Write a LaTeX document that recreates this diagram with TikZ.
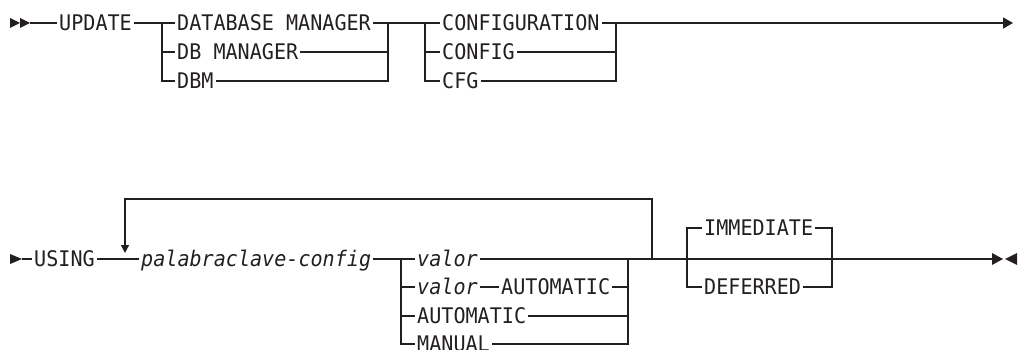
\documentclass[tikz,border=0pt]{standalone}
\usepackage{fontspec}
\usetikzlibrary{arrows.meta}
\newfontfamily\dmono[FakeStretch=0.935]{DejaVu Sans Mono}
\definecolor{ink}{HTML}{231F20}
\begin{document}
\begin{tikzpicture}[x=1pt,y=-1pt,line width=1.4pt,draw=ink,
  kw/.style={font=\dmono\fontsize{21.5}{22}\selectfont,inner xsep=1.5pt,inner ysep=0pt,
    text height=15.7pt,text depth=0pt,anchor=west,text=ink},
  var/.style={kw,font=\dmono\itshape\fontsize{21.5}{22}\selectfont},
  endtip/.style={-{Triangle[length=10pt,width=11pt]}},
  looptip/.style={-{Triangle[length=8pt,width=8pt]}}]
\useasboundingbox (0,0) rectangle (1018,350);
% ---------- row 1 ----------
\fill[ink] (10,18) -- (20,23) -- (10,28) -- cycle;
\fill[ink] (20,18) -- (30,23) -- (20,28) -- cycle;
\coordinate (s1e) at (30,23);
\node[kw] (upd) at (57,23) {UPDATE};
\node[kw] (dbm1) at (175,23) {DATABASE MANAGER};
\node[kw] (dbm2) at (175,52) {DB MANAGER};
\node[kw] (dbm3) at (175,81) {DBM};
\node[kw] (cf1) at (440,23) {CONFIGURATION};
\node[kw] (cf2) at (440,52) {CONFIG};
\node[kw] (cf3) at (440,81) {CFG};
\coordinate (b1l) at (162,23);
\coordinate (b1r) at (388,23);
\coordinate (b2l) at (425,23);
\coordinate (b2r) at (616,23);
\coordinate (e1) at (1013,23);
\draw (s1e) -- (upd.west);
\draw (upd.east) -- (dbm1.west);
\draw (b1l) |- (dbm2.west);
\draw (b1l) |- (dbm3.west);
\draw (dbm1.east) -- (b1r) -- (b2l) -- (cf1.west);
\draw (dbm2.east) -| (b1r);
\draw (dbm3.east) -| (b1r);
\draw (b2l) |- (cf2.west);
\draw (b2l) |- (cf3.west);
\draw (cf2.east) -| (b2r);
\draw (cf3.east) -| (b2r);
\draw[endtip] (cf1.east) -- (b2r) -- (e1);
% ---------- row 2 ----------
\fill[ink] (10,254) -- (22,259) -- (10,264) -- cycle;
\coordinate (s2e) at (22,259);
\node[kw] (us) at (32,259) {USING};
\node[var] (pc) at (139,259) {palabraclave-config};
\node[var] (v1) at (415,259) {valor};
\node[var] (v2) at (415,287) {valor};
\node[kw] (a2) at (499,287) {AUTOMATIC};
\node[kw] (a3) at (415,316) {AUTOMATIC};
\node[kw] (mn) at (415,344) {MANUAL};
\node[kw] (im) at (702,228) {IMMEDIATE};
\node[kw] (df) at (702,287) {DEFERRED};
\coordinate (lpt) at (125,199);
\coordinate (lpa) at (125,253);
\coordinate (jn) at (652,259);
\coordinate (b3l) at (401,259);
\coordinate (b3r) at (628,259);
\coordinate (b4l) at (687,259);
\coordinate (b4r) at (832,259);
\coordinate (e2) at (992,259);
\draw (s2e) -- (us.west);
\draw (us.east) -- (pc.west);
\draw[looptip] (jn) |- (lpt) -- (lpa);
\draw (pc.east) -- (b3l) -- (v1.west);
\draw (b3l) |- (v2.west);
\draw (b3l) |- (a3.west);
\draw (b3l) |- (mn.west);
\draw (v2.east) -- (a2.west);
\draw (a2.east) -| (b3r);
\draw (a3.east) -| (b3r);
\draw (mn.east) -| (b3r);
\draw (v1.east) -- (b3r) -- (jn) -- (b4l);
\draw (b4l) |- (im.west);
\draw (b4l) |- (df.west);
\draw (im.east) -| (b4r);
\draw (df.east) -| (b4r);
\draw (b4l) -- (b4r) -- (e2);
\fill[ink] (992,253) -- (1003,259) -- (992,265) -- cycle;
\fill[ink] (1017,253) -- (1005,259) -- (1017,265) -- cycle;
\end{tikzpicture}
\end{document}
